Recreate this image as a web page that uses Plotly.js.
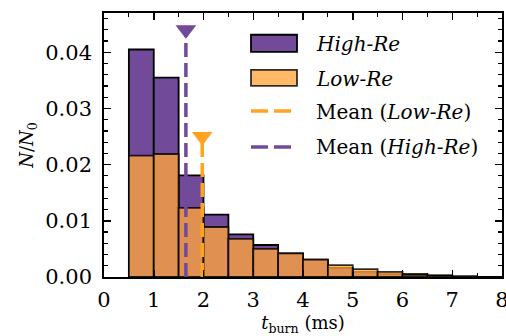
<!DOCTYPE html>
<html>
<head>
<meta charset="utf-8">
<script src="https://cdn.plot.ly/plotly-3.0.1.min.js"></script>
<style>html,body{margin:0;padding:0;background:#fff;}#chart{width:506px;height:336px;}</style>
</head>
<body>
<div id="chart"></div>
<script>
// Histogram bins (left edges, ms) and normalised counts N/N0
var binStarts = [0.5, 1.0, 1.5, 2.0, 2.5, 3.0, 3.5, 4.0, 4.5, 5.0, 5.5, 6.0, 6.5, 7.0, 7.5];
var binWidth = 0.5;
var highRe = [0.0405, 0.0355, 0.0181, 0.0111, 0.0076, 0.0057, 0.0042, 0.0031, 0.0016, 0.0009, 0.0005, 0.0005, 0.0003, 0.0001, 0.0000];
var lowRe  = [0.0216, 0.0219, 0.0123, 0.0089, 0.0068, 0.0050, 0.0042, 0.0031, 0.0021, 0.0014, 0.0009, 0.0004, 0.0002, 0.0001, 0.0000];

// Means (ms) and marker heights
var meanHigh = 1.646, meanHighTop = 0.0440;
var meanLow = 1.975, meanLowTop = 0.0250;

var legendLabels = ['<i>High-Re</i>', '<i>Low-Re</i>', 'Mean (<i>Low-Re</i>)', 'Mean (<i>High-Re</i>)'];

var PURPLE = '#714A99';
var ORANGE_FILL = 'rgba(255,165,60,0.78)';
var ORANGE_LINE = '#FFA320';
var FONT = 'DejaVu Serif';

var traces = [
  {type: 'bar', x: binStarts, y: highRe, width: binWidth, offset: 0,
   marker: {color: PURPLE, line: {color: '#000', width: 1.8}}, name: 'High-Re', showlegend: false},
  {type: 'bar', x: binStarts, y: lowRe, width: binWidth, offset: 0,
   marker: {color: ORANGE_FILL, line: {color: 'rgba(0,0,0,0.8)', width: 1.8}}, name: 'Low-Re', showlegend: false},
  {type: 'scatter', mode: 'lines', x: [meanLow, meanLow], y: [0, meanLowTop],
   line: {color: ORANGE_LINE, width: 3.5, dash: '14px,6px'}, showlegend: false},
  {type: 'scatter', mode: 'markers', x: [meanLow], y: [meanLowTop],
   marker: {symbol: 'triangle-down', size: 18, color: ORANGE_LINE}, showlegend: false},
  {type: 'scatter', mode: 'lines', x: [meanHigh, meanHigh], y: [0, meanHighTop],
   line: {color: PURPLE, width: 3.5, dash: '14px,6px'}, showlegend: false},
  {type: 'scatter', mode: 'markers', x: [meanHigh], y: [meanHighTop],
   marker: {symbol: 'triangle-down', size: 18, color: PURPLE}, showlegend: false}
];

// custom legend (paper coordinates)
var px = function(p){ return (p - 104) / 398; };
var py = function(p){ return (276.7 - p) / 263.4; };
var shapes = [
  {type: 'rect', xref: 'paper', yref: 'paper', x0: px(251), x1: px(297), y0: py(52), y1: py(35),
   fillcolor: PURPLE, line: {color: '#000', width: 1.8}},
  {type: 'rect', xref: 'paper', yref: 'paper', x0: px(251), x1: px(297), y0: py(86), y1: py(70),
   fillcolor: ORANGE_FILL, line: {color: 'rgba(0,0,0,0.8)', width: 1.8}},
  {type: 'line', xref: 'paper', yref: 'paper', x0: px(251), x1: px(293), y0: py(111), y1: py(111),
   line: {color: ORANGE_LINE, width: 3.5, dash: '17px,6px'}},
  {type: 'line', xref: 'paper', yref: 'paper', x0: px(251), x1: px(293), y0: py(147), y1: py(147),
   line: {color: PURPLE, width: 3.5, dash: '17px,6px'}}
];
var rowY = [44, 79, 112, 147];
var annotations = legendLabels.map(function(t, i){
  return {xref: 'paper', yref: 'paper', x: px(314), y: py(rowY[i]), xanchor: 'left', yanchor: 'middle',
          text: t, showarrow: false, font: {family: FONT, size: 20, color: '#000'}};
});

var axisCommon = {
  showline: true, linecolor: '#000', linewidth: 1.8, mirror: 'allticks',
  ticks: 'inside', ticklen: 7, tickwidth: 1.5, tickcolor: '#000',
  showgrid: false, zeroline: false, automargin: false, ticklabeloverflow: 'allow',
  tickfont: {family: FONT, size: 21, color: '#000'}
};

var layout = {
  width: 506, height: 336,
  margin: {l: 104, r: 4, t: 13, b: 59},
  paper_bgcolor: '#fff', plot_bgcolor: '#fff',
  barmode: 'overlay', bargap: 0,
  showlegend: false,
  xaxis: Object.assign({}, axisCommon, {
    range: [0, 8], dtick: 1, tick0: 0, ticklabelstandoff: 3,
    minor: {dtick: 0.5, ticklen: 4, ticks: 'inside', tickwidth: 1.2, tickcolor: '#000'},
    title: {text: '<i>t</i><sub>burn</sub> (ms)', font: {family: FONT, size: 18, color: '#000'}, standoff: 13}
  }),
  yaxis: Object.assign({}, axisCommon, {
    range: [0, 0.047], dtick: 0.01, tick0: 0, tickformat: '.2f', ticklabelstandoff: 6,
    minor: {dtick: 0.002, ticklen: 4, ticks: 'inside', tickwidth: 1.2, tickcolor: '#000'},
    title: {text: '<i>N</i>/<i>N</i><sub>0</sub>', font: {family: FONT, size: 18, color: '#000'}, standoff: 7}
  }),
  shapes: shapes,
  annotations: annotations
};

Plotly.newPlot('chart', traces, layout, {displayModeBar: false, staticPlot: true});
</script>
</body>
</html>
